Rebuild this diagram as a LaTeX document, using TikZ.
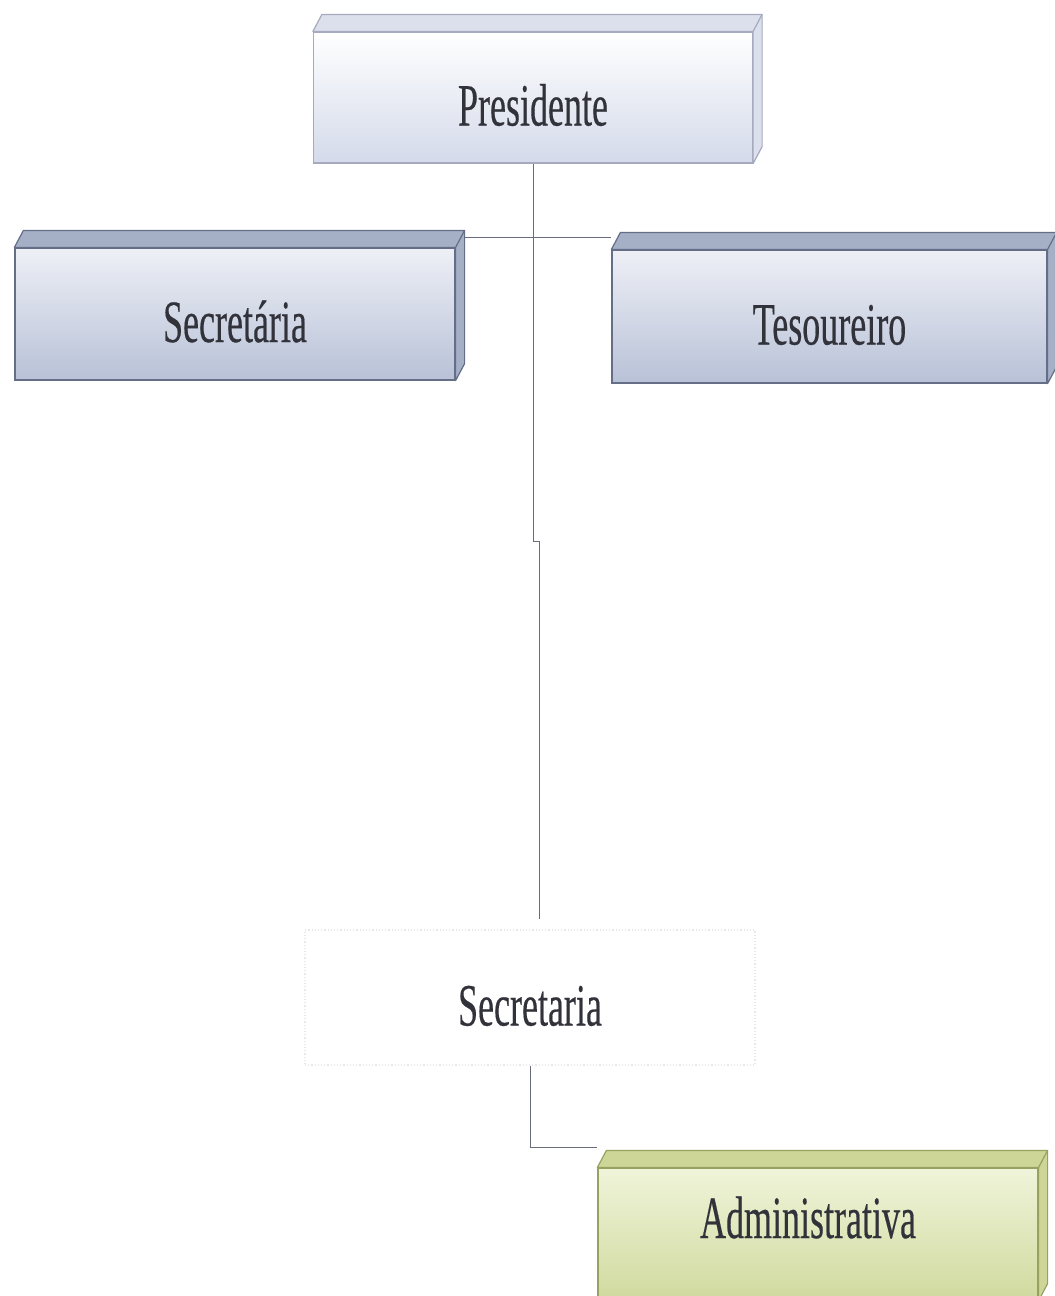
\documentclass[tikz,border=0pt]{standalone}
\usepackage{fontspec}
\setmainfont{Liberation Serif}
\newfontfamily\boxfont[FakeBold=0.4]{Liberation Serif}
\usepackage{graphicx}
\usetikzlibrary{calc, positioning}
\definecolor{textGray}{RGB}{50,50,58}
\definecolor{lineGray}{RGB}{105,108,122}
\definecolor{blueTop}{RGB}{238,240,246}
\definecolor{blueBottom}{RGB}{184,193,215}
\definecolor{blueEdge}{RGB}{100,110,135}
\definecolor{blueFace}{RGB}{165,175,198}
\definecolor{whiteBottom}{RGB}{212,218,234}
\definecolor{whiteEdge}{RGB}{165,170,190}
\definecolor{whiteFace}{RGB}{220,224,236}
\definecolor{greenTop}{RGB}{240,244,218}
\definecolor{greenBottom}{RGB}{208,218,158}
\definecolor{greenEdge}{RGB}{150,162,95}
\definecolor{greenFace}{RGB}{205,214,150}

\newcommand{\narrow}[1]{\scalebox{0.6}[1]{#1}}
% top and right face of a box
\newcommand{\bevel}[3]{%
  \filldraw[fill=#2, draw=#3, line width=1.2pt, line join=round]
    (#1.north west) -- ++(9,-17) -- ($(#1.north east)+(9,-17)$)
    -- ($(#1.south east)+(9,-17)$) -- (#1.south east) -- (#1.north east) -- cycle;
  \draw[#3, line width=1.2pt] (#1.north east) -- ++(9,-17);
}

\begin{document}
\begin{tikzpicture}[x=1pt, y=-1pt,
    box/.style={draw=#1, line width=1.2pt, inner sep=0pt, minimum width=440pt, minimum height=132pt,
      text height=56pt, text depth=0pt, text=textGray, font=\boxfont\fontsize{60}{60}\selectfont},
    link/.style={lineGray, line width=0.9pt}]
    \useasboundingbox (0,0) rectangle (1055,1296);

    % Boxes
    \node[box=whiteEdge, top color=white, bottom color=whiteBottom, minimum width=439pt, minimum height=131pt]
      (pres) at (533,97.5) {\narrow{Presidente}};
    \node[box=blueEdge, top color=blueTop, bottom color=blueBottom] (secr) at (235,314) {\narrow{Secretária}};
    \node[box=blueEdge, top color=blueTop, bottom color=blueBottom, minimum width=435pt, minimum height=133pt]
      (tes) at (829.5,316.5) {\narrow{Tesoureiro}};
    \node[box=gray!18, dotted, minimum width=450pt, minimum height=135pt] (sec) at (530,997.5) {\narrow{Secretaria}};
    \node[box=greenEdge, top color=greenTop, bottom color=greenBottom, text height=44pt, text depth=36pt]
      (adm) at (818,1234) {\narrow{Administrativa}\kern20pt};

    \bevel{pres}{whiteFace}{whiteEdge}
    \bevel{secr}{blueFace}{blueEdge}
    \bevel{tes}{blueFace}{blueEdge}
    \bevel{adm}{greenFace}{greenEdge}

    % Connectors
    \coordinate (jog) at (539,541);
    \coordinate (bar) at ($(secr.north east)+(9,-10)$);
    \draw[link] (pres.south) -- (pres.south |- jog) -- (jog) -- ($(jog |- sec.north)+(0,-10)$);
    \draw[link] (bar) -- (bar -| tes.west);
    \draw[link] (sec.south) |- ($(adm.north west)+(0,-20)$);
\end{tikzpicture}
\end{document}
